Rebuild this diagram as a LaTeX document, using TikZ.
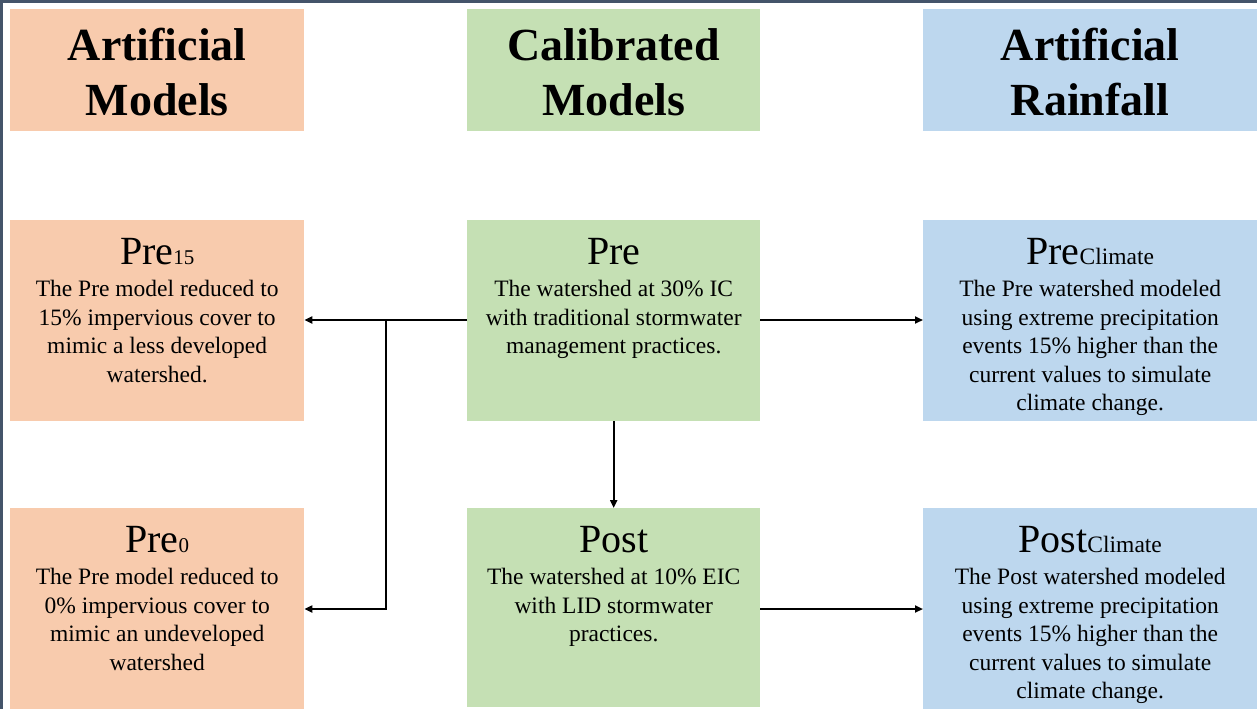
\documentclass[tikz,border=0pt]{standalone}
\usepackage{fontspec}
\setmainfont{Liberation Serif}
\usetikzlibrary{arrows.meta}
\definecolor{orangebox}{HTML}{F8CBAD}
\definecolor{greenbox}{HTML}{C5E0B4}
\definecolor{bluebox}{HTML}{BDD7EE}
\definecolor{frameclr}{HTML}{44546A}
\newcommand{\hdrfont}{\fontsize{46}{55}\selectfont\bfseries}
\newcommand{\ttlfont}{\fontsize{40}{44}\selectfont}
\newcommand{\bdyfont}{\fontsize{23.5}{28.5}\selectfont}
\newcommand{\subsm}[1]{{\fontsize{21}{22}\selectfont #1}}
\newcommand{\subcl}[1]{{\fontsize{23.5}{24}\selectfont #1}}
\begin{document}
\begin{tikzpicture}[x=1pt,y=-1pt,
  box/.style={draw=none,inner sep=0pt,anchor=north west},
  hdr/.style={align=center,font=\hdrfont,text=black},
  ttl/.style={anchor=base,font=\ttlfont,inner sep=0pt},
  bdy/.style={anchor=north,align=center,font=\bdyfont,inner sep=0pt},
  conn/.style={line width=2pt,-{Triangle[length=8pt,width=7pt]}}]
\useasboundingbox (0,0) rectangle (1257,709);
\fill[white] (0,0) rectangle (1257,709);
% frame lines
\draw[frameclr,line width=3pt] (0,1.5) -- (1257,1.5);
\draw[frameclr,line width=3pt] (1.5,0) -- (1.5,709);
% header boxes
\node[box,fill=orangebox,minimum width=294pt,minimum height=122pt] (h1) at (10,9) {};
\node[box,fill=greenbox,minimum width=293pt,minimum height=122pt] (h2) at (467,9) {};
\node[box,fill=bluebox,minimum width=334pt,minimum height=122pt] (h3) at (923,9) {};
\node[hdr] at ([yshift=-2pt]h1.center) {Artificial\\Models};
\node[hdr] at ([yshift=-2pt]h2.center) {Calibrated\\Models};
\node[hdr] at ([yshift=-2pt]h3.center) {Artificial\\Rainfall};
% middle row
\node[box,fill=orangebox,minimum width=294pt,minimum height=201pt] (pre15) at (10,220) {};
\node[box,fill=greenbox,minimum width=293pt,minimum height=201pt] (pre) at (467,220) {};
\node[box,fill=bluebox,minimum width=334pt,minimum height=201pt] (precl) at (923,220) {};
% bottom row
\node[box,fill=orangebox,minimum width=294pt,minimum height=201pt] (pre0) at (10,508) {};
\node[box,fill=greenbox,minimum width=293pt,minimum height=199pt] (post) at (467,508) {};
\node[box,fill=bluebox,minimum width=334pt,minimum height=201pt] (postcl) at (923,508) {};
% texts
\node[ttl] at ([yshift=-44pt]pre15.north) {Pre\subsm{15}};
\node[bdy] at ([yshift=-60pt]pre15.north) {The Pre model reduced to\\15\% impervious cover to\\mimic a less developed\\watershed.};
\node[ttl] at ([yshift=-44pt]pre.north) {Pre};
\node[bdy] at ([yshift=-60pt]pre.north) {The watershed at 30\% IC\\with traditional stormwater\\management practices.};
\node[ttl] at ([yshift=-44pt]precl.north) {Pre\subcl{Climate}};
\node[bdy] at ([yshift=-60pt]precl.north) {The Pre watershed modeled\\using extreme precipitation\\events 15\% higher than the\\current values to simulate\\climate change.};
\node[ttl] at ([yshift=-44pt]pre0.north) {Pre\subsm{0}};
\node[bdy] at ([yshift=-60pt]pre0.north) {The Pre model reduced to\\0\% impervious cover to\\mimic an undeveloped\\watershed};
\node[ttl] at ([yshift=-44pt]post.north) {Post};
\node[bdy] at ([yshift=-60pt]post.north) {The watershed at 10\% EIC\\with LID stormwater\\practices.};
\node[ttl] at ([yshift=-44pt]postcl.north) {Post\subcl{Climate}};
\node[bdy] at ([yshift=-60pt]postcl.north) {The Post watershed modeled\\using extreme precipitation\\events 15\% higher than the\\current values to simulate\\climate change.};
% connectors
\coordinate (jn) at (386,320);
\draw[conn] (pre.west |- jn) -- (pre15.east |- jn);
\draw[conn] (jn) |- (pre0.east |- 0,609);
\draw[conn] (pre.east |- jn) -- (precl.west |- jn);
\draw[conn] (pre.south) -- (post.north);
\draw[conn] (post.east |- 0,609) -- (postcl.west |- 0,609);
\end{tikzpicture}
\end{document}
